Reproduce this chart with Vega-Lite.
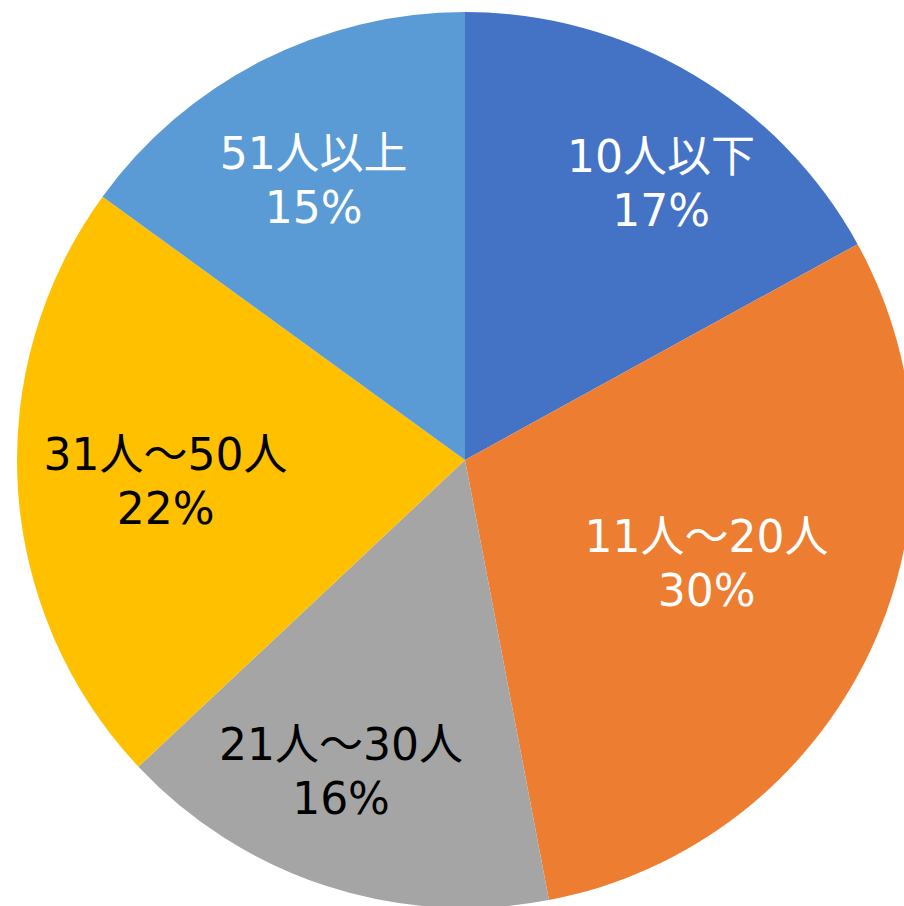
{
  "$schema": "https://vega.github.io/schema/vega-lite/v6.json",
  "autosize": "none",
  "width": 878,
  "height": 892,
  "padding": {"left": 26, "top": 14, "right": 0, "bottom": 0},
  "background": "white",
  "data": {
    "values": [
      {"category": "10人以下", "value": 17, "order": 1},
      {"category": "11人～20人", "value": 30, "order": 2},
      {"category": "21人～30人", "value": 16, "order": 3},
      {"category": "31人～50人", "value": 22, "order": 4},
      {"category": "51人以上", "value": 15, "order": 5}
    ]
  },
  "transform": [
    {"stack": "value", "groupby": [], "sort": [{"field": "order", "order": "ascending"}], "as": ["v0", "v1"]},
    {"calculate": "(datum.v0 + datum.v1) / 2", "as": "mid"},
    {"calculate": "[datum.category, datum.value + '%']", "as": "labelText"}
  ],
  "layer": [
    {
      "mark": {"type": "arc", "radius": 448},
      "encoding": {
        "theta": {"field": "v0", "type": "quantitative", "scale": {"domain": [0, 100]}},
        "theta2": {"field": "v1"},
        "color": {
          "field": "category",
          "type": "nominal",
          "sort": null,
          "scale": {
            "domain": ["10人以下", "11人～20人", "21人～30人", "31人～50人", "51人以上"],
            "range": ["#4472C4", "#ED7D31", "#A5A5A5", "#FFC000", "#5B9BD5"]
          },
          "legend": null
        }
      }
    },
    {
      "transform": [{"filter": "datum.category === '10人以下'"}],
      "mark": {"type": "text", "radius": 338, "dx": 24, "dy": -10, "font": "DejaVu Sans, Noto Sans CJK JP", "fontSize": 44, "lineHeight": 54, "align": "center", "baseline": "middle", "color": "#FFFFFF"},
      "encoding": {
        "theta": {"field": "mid", "type": "quantitative", "scale": {"domain": [0, 100]}},
        "text": {"field": "labelText"}
      }
    },
    {
      "transform": [{"filter": "datum.category === '11人～20人'"}],
      "mark": {"type": "text", "radius": 267, "dy": -35, "font": "DejaVu Sans, Noto Sans CJK JP", "fontSize": 44, "lineHeight": 54, "align": "center", "baseline": "middle", "color": "#FFFFFF"},
      "encoding": {
        "theta": {"field": "mid", "type": "quantitative", "scale": {"domain": [0, 100]}},
        "text": {"field": "labelText"}
      }
    },
    {
      "transform": [{"filter": "datum.category === '21人～30人'"}],
      "mark": {"type": "text", "radius": 330, "dx": -22, "dy": -27, "font": "DejaVu Sans, Noto Sans CJK JP", "fontSize": 44, "lineHeight": 54, "align": "center", "baseline": "middle", "color": "#000000"},
      "encoding": {
        "theta": {"field": "mid", "type": "quantitative", "scale": {"domain": [0, 100]}},
        "text": {"field": "labelText"}
      }
    },
    {
      "transform": [{"filter": "datum.category === '31人～50人'"}],
      "mark": {"type": "text", "radius": 300, "dy": -22, "font": "DejaVu Sans, Noto Sans CJK JP", "fontSize": 44, "lineHeight": 54, "align": "center", "baseline": "middle", "color": "#000000"},
      "encoding": {
        "theta": {"field": "mid", "type": "quantitative", "scale": {"domain": [0, 100]}},
        "text": {"field": "labelText"}
      }
    },
    {
      "transform": [{"filter": "datum.category === '51人以上'"}],
      "mark": {"type": "text", "radius": 318, "dx": -7, "dy": -21, "font": "DejaVu Sans, Noto Sans CJK JP", "fontSize": 44, "lineHeight": 54, "align": "center", "baseline": "middle", "color": "#FFFFFF"},
      "encoding": {
        "theta": {"field": "mid", "type": "quantitative", "scale": {"domain": [0, 100]}},
        "text": {"field": "labelText"}
      }
    }
  ]
}
